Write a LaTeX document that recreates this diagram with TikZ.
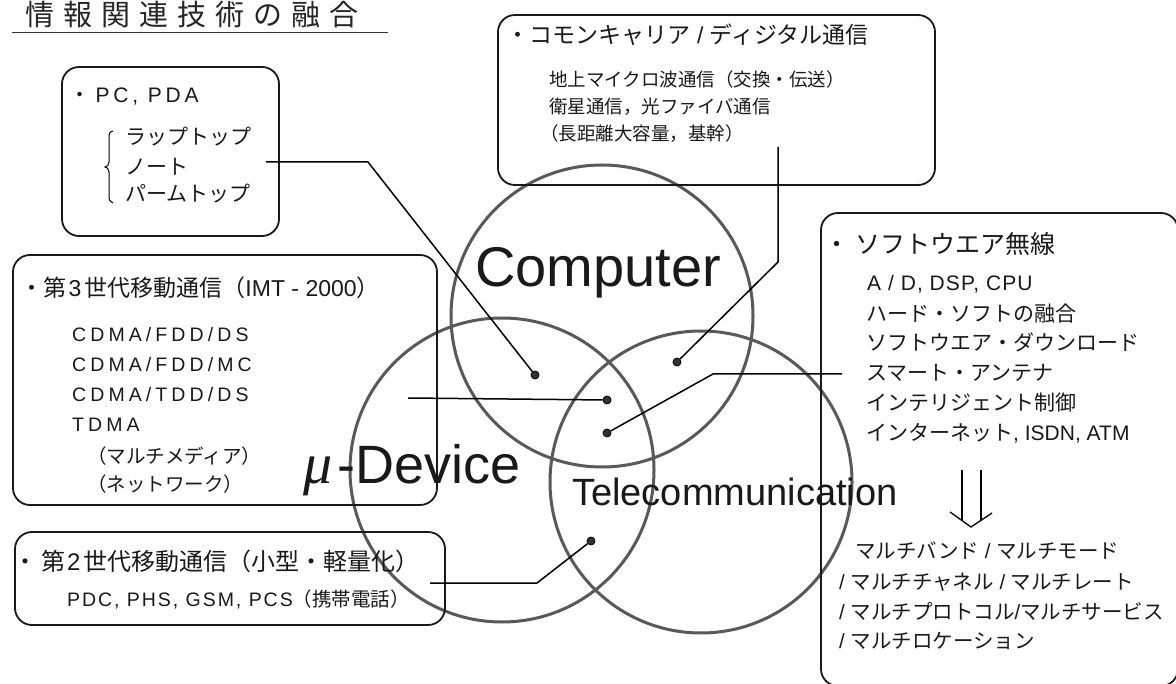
\documentclass[tikz,border=0pt]{standalone}
\usepackage{fontspec}
\newfontfamily\jp{Noto Sans CJK JP}
\newfontfamily\lat{Liberation Sans}
\newfontfamily\muf{Liberation Serif}
\newcommand{\setfs}[1]{\fontsize{#1}{#1}\selectfont}
\newcommand{\latsp}[2]{{\lat\addfontfeature{LetterSpace=#1}#2}}
\begin{document}
\begin{tikzpicture}[x=1pt,y=-1pt,
  box/.style={draw=black!90, line width=1.8pt, rounded corners=17pt, inner sep=0pt},
  ring/.style={circle, draw=black!65, line width=3pt, inner sep=0pt},
  txt/.style={anchor=base west, inner sep=0pt, text=black!90},
  wire/.style={draw=black, line width=1.5pt},
  dotn/.style={circle, fill=black!80, draw=black, line width=0.8pt, inner sep=0pt, minimum size=8pt}]
\useasboundingbox (0,0) rectangle (1176,684);
\fill[white] (0,0) rectangle (1176,684);

% title
\node[txt, text=black!85] (title) at (25,25.5) {\jp\addfontfeature{LetterSpace=31}\setfs{29}情報関連技術の融合};
\coordinate (ulA) at (12,33);
\coordinate (ulB) at (388,33);
\draw[line width=1pt, black!80] (ulA) -- (ulB);

% circles
\node[ring, minimum size=302pt] (comp) at (602,316) {};
\node[ring, minimum size=304pt] (dev) at (502,470) {};
\node[ring, minimum size=302pt] (tel) at (701,482) {};

% boxes
\node[box, minimum width=217pt, minimum height=169pt] (pcbox) at (170.5,151.5) {};
\node[box, minimum width=437pt, minimum height=170pt] (cmbox) at (716.5,100) {};
\node[box, minimum width=424pt, minimum height=250pt] (gtbox) at (225,380) {};
\node[box, minimum width=430pt, minimum height=93pt] (gsbox) at (230,578.5) {};
\node[box, minimum width=357pt, minimum height=473pt] (swbox) at (999.5,449.5) {};

% circle labels
\node[txt] (complab) at (475,287) {\lat\setfs{56}Computer};
\node[txt] (devlab) at (303,484) {{\muf\itshape\setfs{58}μ}\hspace{5pt}{\lat\setfs{54}-Device}};
\node[txt] (tellab) at (572,506) {\lat\setfs{38}Telecommunication};

% PC box
\node[txt] (pc1) at (69.5,103) {\jp\setfs{21}・\hspace{5pt}\latsp{18}{PC, PDA}};
\node[txt] (pc2) at (125,145) {\jp\setfs{21}ラップトップ};
\node[txt] (pc3) at (125,174.5) {\jp\setfs{21}ノート};
\node[txt] (pc4) at (125,201.5) {\jp\setfs{21}パームトップ};
\draw[line width=1pt] (113,131) .. controls (109,132) and (109,134) .. (109,138) -- (109,162)
  .. controls (109,165) and (107,167) .. (105,167) .. controls (107,167) and (109,169) .. (109,172)
  -- (109,196) .. controls (109,200) and (110,202) .. (113,203);

% common carrier box
\node[txt] (cm1) at (506.5,43.5) {\jp\setfs{23}・コモンキャリア{\lat\ /\ }ディジタル通信};
\node[txt] (cm2) at (549,86.5) {\jp\setfs{18.5}地上マイクロ波通信（交換・伝送）};
\node[txt] (cm3) at (549,113.5) {\jp\setfs{18.5}衛星通信，光ファイバ通信};
\node[txt] (cm4) at (540,140.5) {\jp\setfs{18.5}（長距離大容量，基幹）};

% 3G box
\node[txt] (gt1) at (20.5,297) {\jp\setfs{23}・第\hspace{2pt}{\lat 3}\hspace{3pt}世代移動通信（{\lat IMT - 2000}）};
\node[txt] (gt2) at (72,342) {\latsp{21}{\setfs{19.5}CDMA/FDD/DS}};
\node[txt] (gt3) at (72,372) {\latsp{21}{\setfs{19.5}CDMA/FDD/MC}};
\node[txt] (gt4) at (72,402) {\latsp{21}{\setfs{19.5}CDMA/TDD/DS}};
\node[txt] (gt5) at (72,432) {\latsp{21}{\setfs{19.5}TDMA}};
\node[txt] (gt6) at (87,464) {\jp\setfs{19.5}（マルチメディア）};
\node[txt] (gt7) at (87,492) {\jp\setfs{19.5}（ネットワーク）};

% 2G box
\node[txt] (gs1) at (13,570) {\jp\setfs{24}・\hspace{4pt}第\hspace{2pt}{\lat 2}\hspace{3pt}世代移動通信（小型・軽量化）};
\node[txt] (gs2) at (67,606) {\setfs{19.5}\latsp{10}{PDC, PHS, GSM, PCS}{\jp（携帯電話）}};

% software radio box
\node[txt] (sw1) at (824.5,254) {\jp\setfs{25}・\hspace{6pt}ソフトウエア無線};
\node[txt] (sw2) at (867,291) {\setfs{21}\latsp{5}{A / D, DSP, CPU}};
\node[txt] (sw3) at (866,321.5) {\jp\setfs{21}ハード・ソフトの融合};
\node[txt] (sw4) at (866,350.5) {\jp\setfs{21}ソフトウエア・ダウンロード};
\node[txt] (sw5) at (866,380.5) {\jp\setfs{21}スマート・アンテナ};
\node[txt] (sw6) at (866,410.5) {\jp\setfs{21}インテリジェント制御};
\node[txt] (sw7) at (866,440.5) {\jp\setfs{21}インターネット{\lat , ISDN, ATM}};
\node[txt] (sw8) at (855,558.5) {\jp\setfs{20.5}マルチバンド{\lat\ /\ }マルチモード};
\node[txt] (sw9) at (839,589.5) {\jp\setfs{20.5}{\lat /\ }マルチチャネル{\lat\ /\ }マルチレート};
\node[txt] (sw10) at (839,619.5) {\jp\setfs{20.5}{\lat /\ }マルチプロトコル{\lat /}マルチサービス};
\node[txt] (sw11) at (839,648.5) {\jp\setfs{20.5}{\lat /\ }マルチロケーション};

% double arrow
\coordinate (arL1) at (962,470);
\coordinate (arL2) at (962,521);
\coordinate (arR1) at (981,470);
\coordinate (arR2) at (981,521);
\coordinate (arA) at (950,512);
\coordinate (arT) at (971,527);
\coordinate (arB) at (992,513);
\draw[line width=1.3pt] (arL1) -- (arL2);
\draw[line width=1.3pt] (arR1) -- (arR2);
\draw[line width=1.3pt, line join=miter] (arA) -- (arT) -- (arB);

% dots
\node[dotn] (dpc) at (535,375) {};
\node[dotn] (dcm) at (677,362) {};
\node[dotn] (dgt) at (607,400) {};
\node[dotn] (dsw) at (607,433) {};
\node[dotn] (dgs) at (591,541) {};

% connectors
\coordinate (pcA) at (266,162);
\coordinate (pcB) at (368,162);
\draw[wire] (pcA) -- (pcB) -- (dpc);
\coordinate (cmA) at (778,147);
\coordinate (cmB) at (778,262);
\draw[wire] (cmA) -- (cmB) -- (dcm);
\coordinate (swA) at (842,374);
\coordinate (swB) at (713,374);
\draw[wire] (swA) -- (swB) -- (dsw);
\coordinate (gtA) at (408,398);
\draw[wire] (gtA) -- (dgt);
\coordinate (gsA) at (430,583);
\coordinate (gsB) at (537,583);
\draw[wire] (gsA) -- (gsB) -- (dgs);
\end{tikzpicture}
\end{document}
